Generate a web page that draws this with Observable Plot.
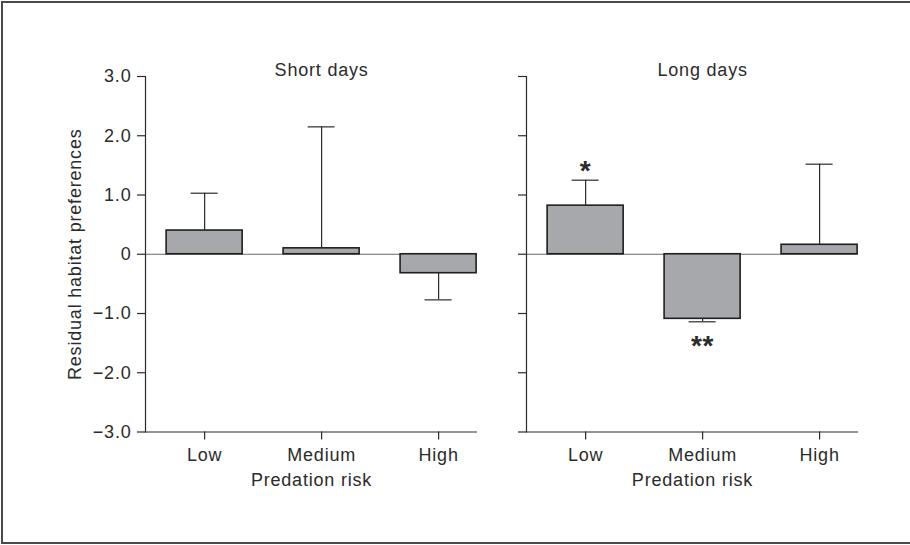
<!DOCTYPE html>
<html><head><meta charset="utf-8">
<script src="https://cdn.jsdelivr.net/npm/d3@7"></script>
<script src="https://cdn.jsdelivr.net/npm/@observablehq/plot@0.6"></script>
<style>
html,body{margin:0;padding:0;background:#fff;}
#wrap{position:relative;width:910px;height:545px;overflow:hidden;}
#chart{position:absolute;left:0;top:0;}
#border{position:absolute;left:1px;top:1px;width:930px;height:543px;border:2px solid #4a4a4a;border-right:none;box-sizing:border-box;pointer-events:none;}
</style></head><body>
<div id="wrap"><div id="chart"></div><div id="border"></div></div>
<script>
// ---- data ----
const panels = ["Short days", "Long days"];
const risks = ["Low", "Medium", "High"];
const shortMeans = [0.40, 0.10, -0.32];
const shortErrTips = [1.03, 2.15, -0.77];
const longMeans = [0.82, -1.09, 0.16];
const longErrTips = [1.25, -1.14, 1.52];
const yTicks = [-3, -2, -1, 0, 1, 2, 3];
const yTickLabels = ["\u22123.0", "\u22122.0", "\u22121.0", "0", "1.0", "2.0", "3.0"];
const sigPanels = ["Long days", "Long days"];
const sigRisks = ["Low", "Medium"];
const sigLabels = ["*", "**"];
const yTitle = "Residual habitat preferences";
const xTitle = "Predation risk";

// ---- tables ----
const rows = [];
panels.forEach((p, pi) => {
  const m = pi === 0 ? shortMeans : longMeans;
  const t = pi === 0 ? shortErrTips : longErrTips;
  risks.forEach((r, i) => rows.push({panel: p, risk: r, mean: m[i], tip: t[i]}));
});
const sig = sigLabels.map((l, i) => {
  const row = rows.find(d => d.panel === sigPanels[i] && d.risk === sigRisks[i]);
  return {panel: sigPanels[i], risk: sigRisks[i], label: l, tip: row.tip};
});
const tickFmt = d => yTickLabels[yTicks.indexOf(d)];

const ink = "#2b2b2b";
const chart = Plot.plot({
  width: 910,
  height: 545,
  marginTop: 76,
  marginBottom: 113.5,
  marginLeft: 145,
  marginRight: 52,
  style: {fontFamily: "'Liberation Sans', Arial, sans-serif", fontSize: "18px", color: ink, background: "transparent", letterSpacing: "0.8px"},
  fx: {domain: panels, paddingInner: 0.1286, paddingOuter: 0, round: false, axis: null},
  x: {type: "band", domain: risks, paddingInner: 0.35, paddingOuter: 0.094, align: 0.96, round: false},
  y: {domain: [-3, 3], nice: false},
  marks: [
    Plot.ruleY([0], {stroke: "#6a6a6a", strokeWidth: 1}),
    Plot.barY(rows, {fx: "panel", x: "risk", y: "mean", fill: "#a7a8ab", stroke: "#1f1f1f", strokeWidth: 1.6}),
    Plot.ruleX(rows, {fx: "panel", x: "risk", y1: "mean", y2: "tip", stroke: ink, strokeWidth: 1.2}),
    Plot.tickY(rows, {fx: "panel", x: "risk", y: "tip", stroke: ink, strokeWidth: 1.2, insetLeft: 24.5, insetRight: 24.5}),
    Plot.ruleY([-3], {stroke: ink, strokeWidth: 1.2}),
    Plot.frame({anchor: "left", stroke: ink, strokeWidth: 1.2}),
    Plot.axisY({ticks: yTicks, tickSize: 8, tickFormat: () => "", label: null, facetAnchor: null, stroke: ink, strokeWidth: 1.2}),
    Plot.axisY({ticks: yTicks, tickSize: 0, tickPadding: 14, tickFormat: tickFmt, fill: ink,
      label: yTitle, labelAnchor: "center", labelOffset: 77, labelArrow: "none"}),
    Plot.axisX({tickSize: 8, tickPadding: 8, label: null, fill: ink, stroke: ink, strokeWidth: 1.2}),
    Plot.text(panels, {fx: d => d, x: () => "Medium", text: d => d, frameAnchor: "top", lineAnchor: "bottom", dy: -1, fill: ink}),
    Plot.text([xTitle], {frameAnchor: "bottom", lineAnchor: "top", dy: 41.5, fill: ink}),
    Plot.text(sig.filter(d => d.tip > 0), {fx: "panel", x: "risk", y: "tip", text: "label", fontSize: 28, fontWeight: "bold", dy: -9.2, fill: ink}),
    Plot.text(sig.filter(d => d.tip < 0), {fx: "panel", x: "risk", y: "tip", text: "label", fontSize: 28, fontWeight: "bold", dy: 24.5, fill: ink})
  ]
});
document.getElementById("chart").appendChild(chart);
</script>
</body></html>
